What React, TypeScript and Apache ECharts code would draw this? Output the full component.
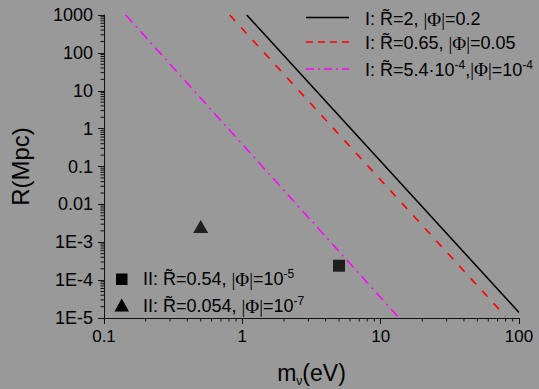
import React, { useEffect, useRef } from "react";
import * as echarts from "echarts";

// ---- data ----
const xTickLabels = ["0.1", "1", "10", "100"];
const yTickLabels = ["1E-5", "1E-4", "1E-3", "0.01", "0.1", "1", "10", "100", "1000"];

// Case I lines (endpoints on the log-log plane)
const blackLine: number[][] = [[1.076, 1000], [100, 1.4e-5]];
const redLine: number[][] = [[0.81, 1000], [80, 1.1e-5]];
const magentaLine: number[][] = [[0.1435, 1000], [13.6, 1e-5]];

// Case II points
const squarePoints: number[][] = [[5, 2.4e-4]];
const trianglePoints: number[][] = [[0.5, 2.6e-3]];

// minor tick positions
const minorMultipliers = [2, 3, 4, 5, 6, 7, 8, 9];
const xDecades = [0.1, 1, 10];
const yDecades = [1e-5, 1e-4, 1e-3, 1e-2, 0.1, 1, 10, 100];

const X_MIN = 0.1, X_MAX = 100, Y_MIN = 1e-5, Y_MAX = 1000;

const FONT = "'Liberation Sans', Arial, sans-serif";
const SERIF = "'Liberation Serif', 'DejaVu Serif', serif";

const legendRich = {
  t: { fontFamily: FONT, fontSize: 18, color: "#000", lineHeight: 22 },
  p: { fontFamily: SERIF, fontSize: 19, color: "#000", lineHeight: 22 },
  s: { fontFamily: FONT, fontSize: 12, color: "#000", verticalAlign: "top", lineHeight: 22 },
};

export default function App() {
  const ref = useRef<HTMLDivElement>(null);
  useEffect(() => {
    if (!ref.current) return;
    const chart = echarts.init(ref.current, undefined, { renderer: "svg" });

    const xMinor: number[][] = [];
    xDecades.forEach((d) => minorMultipliers.forEach((m) => xMinor.push([d * m, Y_MIN])));
    const yMinor: number[][] = [];
    yDecades.forEach((d) => minorMultipliers.forEach((m) => yMinor.push([X_MIN, d * m])));

    const logIdx = (v: number) => Math.round(Math.log10(v));

    chart.setOption({
      animation: false,
      backgroundColor: "#999999",
      grid: { left: 104, right: 20, top: 15, bottom: 71, containLabel: false, outerBoundsMode: "none" },
      xAxis: {
        type: "log",
        logBase: 10,
        min: X_MIN,
        max: X_MAX,
        splitLine: { show: false },
        axisLine: { show: true, lineStyle: { color: "#111", width: 1 } },
        axisTick: { show: true, length: 6, lineStyle: { color: "#111" } },
        axisLabel: {
          margin: 10,
          color: "#000",
          fontFamily: FONT,
          fontSize: 17,
          formatter: (v: number) => xTickLabels[logIdx(v) + 1] ?? "",
        },
        name: "{a|m}{sub|ν}{a|(eV)}",
        nameLocation: "middle",
        nameGap: 41,
        nameTextStyle: {
          rich: {
            a: { fontFamily: FONT, fontSize: 23, color: "#000" },
            sub: { fontFamily: FONT, fontSize: 12, color: "#000", verticalAlign: "bottom", padding: [16, 0, 0, 0] },
          },
        },
      },
      yAxis: {
        type: "log",
        logBase: 10,
        min: Y_MIN,
        max: Y_MAX,
        splitLine: { show: false },
        axisLine: { show: true, lineStyle: { color: "#111", width: 1 } },
        axisTick: { show: true, length: 6, lineStyle: { color: "#111" } },
        axisLabel: {
          margin: 11,
          color: "#000",
          fontFamily: FONT,
          fontSize: 18,
          formatter: (v: number) => yTickLabels[logIdx(v) + 5] ?? "",
        },
        name: "R(Mpc)",
        nameLocation: "middle",
        nameGap: 72,
        nameTextStyle: { fontFamily: FONT, fontSize: 24, color: "#000" },
      },
      series: [
        {
          type: "line",
          data: blackLine,
          symbol: "none",
          lineStyle: { color: "#000", width: 1.5 },
        },
        {
          type: "line",
          data: redLine,
          symbol: "none",
          lineStyle: { color: "#ff0000", width: 1.6, type: [8, 9] },
        },
        {
          type: "line",
          data: magentaLine,
          symbol: "none",
          lineStyle: { color: "#ff00ff", width: 1.5, type: [10, 5, 2, 5] },
        },
        {
          type: "scatter",
          data: squarePoints,
          symbol: "rect",
          symbolSize: 12,
          itemStyle: { color: "#000" },
        },
        {
          type: "scatter",
          data: trianglePoints,
          symbol: "triangle",
          symbolSize: [15, 13],
          itemStyle: { color: "#000" },
        },
        {
          type: "custom",
          data: xMinor,
          silent: true,
          clip: false,
          renderItem: (_p: any, api: any) => {
            const pt = api.coord([api.value(0), api.value(1)]);
            return {
              type: "line",
              shape: { x1: pt[0], y1: pt[1], x2: pt[0], y2: pt[1] + 3.5 },
              style: { stroke: "#111", lineWidth: 1 },
            };
          },
        },
        {
          type: "custom",
          data: yMinor,
          silent: true,
          clip: false,
          renderItem: (_p: any, api: any) => {
            const pt = api.coord([api.value(0), api.value(1)]);
            return {
              type: "line",
              shape: { x1: pt[0], y1: pt[1], x2: pt[0] - 3.5, y2: pt[1] },
              style: { stroke: "#111", lineWidth: 1 },
            };
          },
        },
      ],
      graphic: [
        // top-right legend
        { type: "line", shape: { x1: 306, y1: 17.5, x2: 349, y2: 17.5 }, style: { stroke: "#000", lineWidth: 1.5 } },
        { type: "line", shape: { x1: 306, y1: 42, x2: 349, y2: 42 }, style: { stroke: "#ff0000", lineWidth: 1.6, lineDash: [7, 5] } },
        { type: "line", shape: { x1: 306, y1: 69, x2: 349, y2: 69 }, style: { stroke: "#ff00ff", lineWidth: 1.5, lineDash: [8, 4, 2, 4] } },
        {
          type: "text", x: 365, y: 19,
          style: { text: "{t|I: R\u0303=2, }{p||Φ|}{t|=0.2}", rich: legendRich, verticalAlign: "middle" },
        },
        {
          type: "text", x: 365, y: 43,
          style: { text: "{t|I: R\u0303=0.65, }{p||Φ|}{t|=0.05}", rich: legendRich, verticalAlign: "middle" },
        },
        {
          type: "text", x: 365, y: 69.5,
          style: { text: "{t|I: R\u0303=5.4·10}{s|-4}{t|,}{p||Φ|}{t|=10}{s|-4}", rich: legendRich, verticalAlign: "middle" },
        },
        // bottom-left legend
        { type: "rect", shape: { x: 116, y: 273.5, width: 11.5, height: 11.5 }, style: { fill: "#000" } },
        { type: "polygon", shape: { points: [[121.7, 298.5], [129, 311.5], [114.4, 311.5]] }, style: { fill: "#000" } },
        {
          type: "text", x: 143, y: 279,
          style: { text: "{t|II: R\u0303=0.54, }{p||Φ|}{t|=10}{s|-5}", rich: legendRich, verticalAlign: "middle" },
        },
        {
          type: "text", x: 143, y: 306,
          style: { text: "{t|II: R\u0303=0.054, }{p||Φ|}{t|=10}{s|-7}", rich: legendRich, verticalAlign: "middle" },
        },
      ],
    });
    return () => chart.dispose();
  }, []);
  return <div ref={ref} style={{ position: "fixed", left: 0, top: 0, width: 539, height: 389 }} />;
}
